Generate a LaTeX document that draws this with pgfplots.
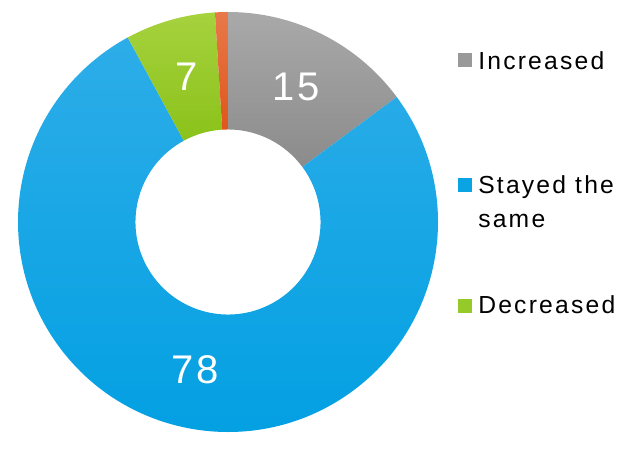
\documentclass[border=0pt]{standalone}
\usepackage{pgfplots}
\pgfplotsset{compat=1.18}
\usepackage{pgfplotstable}
\usepackage{fontspec}
\setmainfont{Liberation Sans}
\newfontfamily\legfont[LetterSpace=9]{Liberation Sans}
\newfontfamily\numfont[LetterSpace=7]{Liberation Sans}

\definecolor{grayT}{HTML}{A9A9A9}
\definecolor{grayB}{HTML}{8B8B8B}
\definecolor{grayL}{HTML}{999999}
\definecolor{blueT}{HTML}{2DADE8}
\definecolor{blueB}{HTML}{009FE2}
\definecolor{blueL}{HTML}{0AA3E4}
\definecolor{greenT}{HTML}{A6D23E}
\definecolor{greenB}{HTML}{8BC21A}
\definecolor{greenL}{HTML}{96C92A}
\definecolor{orangeT}{HTML}{E8794A}
\definecolor{orangeB}{HTML}{E0561B}

% donut slices, clockwise from 12 o'clock
\pgfplotstableread{
idx label value
0 Increased 15
1 Stayed 78
2 Decreased 7
3 Other 1
}\donutdata

\begin{document}
\begin{tikzpicture}
\pgfplotstablegetelem{0}{value}\of\donutdata \edef\vA{\pgfplotsretval}
\pgfplotstablegetelem{1}{value}\of\donutdata \edef\vB{\pgfplotsretval}
\pgfplotstablegetelem{2}{value}\of\donutdata \edef\vC{\pgfplotsretval}
\pgfplotstablegetelem{3}{value}\of\donutdata \edef\vD{\pgfplotsretval}
\pgfmathsetmacro\tot{\vA+\vB+\vC+\vD}
\pgfmathsetmacro\aA{90-360*(\vA/\tot)}
\pgfmathsetmacro\aB{\aA-360*(\vB/\tot)}
\pgfmathsetmacro\aC{\aB-360*(\vC/\tot)}
\pgfmathsetmacro\aD{\aC-360*(\vD/\tot)}
\pgfmathsetmacro\mA{(90+\aA)/2}
\pgfmathsetmacro\mB{(\aA+\aB)/2}
\pgfmathsetmacro\mC{(\aB+\aC)/2}
\def\Ro{157.5pt}
\def\Ri{69.4pt}
\def\Rm{113.4pt}
\newcommand\donutwedge[4]{%
  \shade[top color=#3,bottom color=#4]
    ([shift={(#1:\Ro)}]axis cs:228,212)
    arc[start angle=#1,end angle=#2,radius=\Ro]
    -- ([shift={(#2:\Ri)}]axis cs:228,212)
    arc[start angle=#2,end angle=#1,radius=\Ri] -- cycle;}
\begin{axis}[
  at={(0,0)}, anchor=south west,
  width=481.5pt, height=325.5pt, scale only axis,
  xmin=0, xmax=642, ymin=0, ymax=434,
  hide axis, clip=false]
\path (axis cs:0,0) (axis cs:642,434);
\donutwedge{90}{\aA}{grayT}{grayB}
\donutwedge{\aA}{\aB}{blueT}{blueB}
\donutwedge{\aB}{\aC}{greenT}{greenB}
\donutwedge{\aC}{\aD}{orangeT}{orangeB}
% slice labels
\node[text=white, font=\numfont\fontsize{30}{32}\selectfont, inner sep=0pt]
  at ([shift={(\mA:\Rm)}]axis cs:228,212) {\vA};
\node[text=white, font=\numfont\fontsize{30}{32}\selectfont, inner sep=0pt]
  at ([shift={(\mB:\Rm)}]axis cs:228,212) {\vB};
\node[text=white, font=\numfont\fontsize{30}{32}\selectfont, inner sep=0pt]
  at ([shift={(\mC:\Rm)}]axis cs:228,212) {\vC};
% legend
\fill[grayL] ([shift={(-5.25pt,-5.25pt)}]axis cs:465,374) rectangle ++(10.5pt,10.5pt);
\fill[blueL] ([shift={(-5.25pt,-5.25pt)}]axis cs:465,249) rectangle ++(10.5pt,10.5pt);
\fill[greenL] ([shift={(-5.25pt,-5.25pt)}]axis cs:465,128) rectangle ++(10.5pt,10.5pt);
\node[anchor=base west, inner sep=0pt, font=\legfont\fontsize{18.5}{20}\selectfont] at (axis cs:478,365) {Increased};
\node[anchor=base west, inner sep=0pt, font=\legfont\fontsize{18.5}{20}\selectfont] at (axis cs:478,241) {Stayed the};
\node[anchor=base west, inner sep=0pt, font=\legfont\fontsize{18.5}{20}\selectfont] at (axis cs:478,207) {same};
\node[anchor=base west, inner sep=0pt, font=\legfont\fontsize{18.5}{20}\selectfont] at (axis cs:478,121) {Decreased};
\end{axis}
\end{tikzpicture}
\end{document}
